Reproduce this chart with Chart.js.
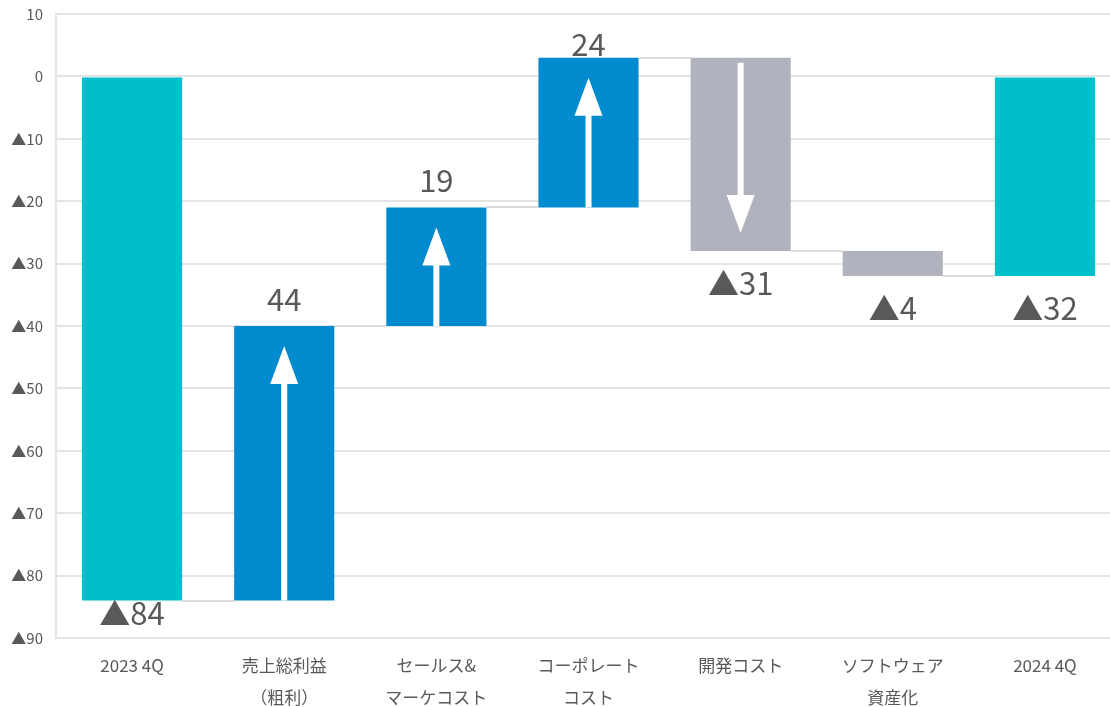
<!DOCTYPE html>
<html>
<head>
<meta charset="utf-8">
<title>営業利益の増減要因</title>
<script src="https://cdn.jsdelivr.net/npm/chart.js@4.4.1/dist/chart.umd.min.js"></script>
<style>
  html, body { margin: 0; padding: 0; overflow: hidden; background: #ffffff; }
  canvas { display: block; }
</style>
</head>
<body>
<canvas id="waterfall" width="1121" height="707"></canvas>
<script>
// Categories (multi-line labels)
const categories = [
  ['2023 4Q'],
  ['売上総利益', '（粗利）'],
  ['セールス&', 'マーケコスト'],
  ['コーポレート', 'コスト'],
  ['開発コスト'],
  ['ソフトウェア', '資産化'],
  ['2024 4Q']
];
// Values: totals are absolute levels, the rest are changes
const values = [-84, 44, 19, 24, -31, -4, -32];
const isTotal = [true, false, false, false, false, false, true];
// Axis range
const yMin = -90;
const yMax = 10;
const yStep = 10;

const COLOR_TOTAL = '#00BFCC';
const COLOR_UP = '#008BCE';
const COLOR_DOWN = '#B0B2BE';
const TEXT = '#595959';
const GRID = '#e4e4e4';
const FONT = "'Noto Sans CJK JP', 'Noto Sans', sans-serif";

// Floating ranges for each bar
const ranges = [];
let level = 0;
values.forEach((v, i) => {
  if (isTotal[i]) {
    ranges.push([0, v]);
    level = v;
  } else {
    ranges.push([level, level + v]);
    level += v;
  }
});
const colors = values.map((v, i) => isTotal[i] ? COLOR_TOTAL : (v >= 0 ? COLOR_UP : COLOR_DOWN));

const fmt = v => v < 0 ? '▲' + (-v) : String(v);

// Connector lines between neighbouring bars
const connectorPlugin = {
  id: 'connectors',
  beforeDatasetsDraw(chart) {
    const ctx = chart.ctx;
    const meta = chart.getDatasetMeta(0);
    const y = chart.scales.y;
    ctx.save();
    ctx.strokeStyle = '#dcdcdc';
    ctx.lineWidth = 2;
    for (let i = 0; i < meta.data.length - 1; i++) {
      const a = meta.data[i], b = meta.data[i + 1];
      const py = Math.round(y.getPixelForValue(ranges[i][1]));
      ctx.beginPath();
      ctx.moveTo(a.x + a.width / 2, py);
      ctx.lineTo(b.x - b.width / 2, py);
      ctx.stroke();
    }
    ctx.restore();
  }
};

// Arrows inside the change bars and value labels
const decorPlugin = {
  id: 'decor',
  afterDatasetsDraw(chart) {
    const ctx = chart.ctx;
    const meta = chart.getDatasetMeta(0);
    const area = chart.chartArea;
    ctx.save();
    meta.data.forEach((bar, i) => {
      const top = Math.min(bar.y, bar.base);
      const bottom = Math.max(bar.y, bar.base);
      const cx = bar.x;
      const v = values[i];

      // arrows
      if (!isTotal[i] && bottom - top > 60) {
        const headW = 28, headH = 38, shaftW = 6;
        ctx.fillStyle = '#ffffff';
        ctx.beginPath();
        if (v > 0) {
          const tip = top + 20;
          ctx.moveTo(cx, tip);
          ctx.lineTo(cx + headW / 2, tip + headH);
          ctx.lineTo(cx + shaftW / 2, tip + headH);
          ctx.lineTo(cx + shaftW / 2, bottom);
          ctx.lineTo(cx - shaftW / 2, bottom);
          ctx.lineTo(cx - shaftW / 2, tip + headH);
          ctx.lineTo(cx - headW / 2, tip + headH);
        } else {
          const tip = bottom - 18;
          const start = top + 5;
          ctx.moveTo(cx - shaftW / 2, start);
          ctx.lineTo(cx + shaftW / 2, start);
          ctx.lineTo(cx + shaftW / 2, tip - headH);
          ctx.lineTo(cx + headW / 2, tip - headH);
          ctx.lineTo(cx, tip);
          ctx.lineTo(cx - headW / 2, tip - headH);
          ctx.lineTo(cx - shaftW / 2, tip - headH);
        }
        ctx.closePath();
        ctx.fill();
      }

      // labels
      ctx.fillStyle = TEXT;
      ctx.font = '31px ' + FONT;
      ctx.textAlign = 'center';
      ctx.textBaseline = 'alphabetic';
      let baseline;
      if (v > 0) {
        baseline = Math.max(top - 15, area.top + 42);
      } else {
        baseline = Math.min(bottom + 44, area.bottom - 13);
      }
      ctx.fillText(fmt(v), cx, baseline);
    });
    ctx.restore();
  }
};

Chart.defaults.font.family = FONT;
Chart.defaults.color = TEXT;

new Chart(document.getElementById('waterfall'), {
  type: 'bar',
  data: {
    labels: categories,
    datasets: [{
      data: ranges,
      backgroundColor: colors,
      borderWidth: 0,
      barPercentage: 1,
      categoryPercentage: 0.658
    }]
  },
  options: {
    responsive: false,
    animation: false,
    layout: { padding: { top: 14, right: 0, bottom: 0, left: 0 } },
    plugins: {
      legend: { display: false },
      tooltip: { enabled: false }
    },
    scales: {
      x: {
        grid: { display: false, drawTicks: false },
        border: { display: true, color: GRID, width: 2 },
        ticks: {
          color: TEXT,
          font: { size: 17, lineHeight: 1.9 },
          padding: 11,
          maxRotation: 0,
          autoSkip: false
        },
        afterFit(scale) { scale.height = 69; }
      },
      y: {
        min: yMin,
        max: yMax,
        grid: { color: GRID, lineWidth: 2, drawTicks: false },
        border: { display: true, color: GRID, width: 2 },
        ticks: {
          stepSize: yStep,
          color: TEXT,
          font: { size: 15 },
          padding: 13,
          callback: v => fmt(v)
        },
        afterFit(scale) {
          scale.width = 56;
          scale.paddingTop = 0;
          scale.paddingBottom = 0;
        }
      }
    }
  },
  plugins: [connectorPlugin, decorPlugin]
});
</script>
</body>
</html>
